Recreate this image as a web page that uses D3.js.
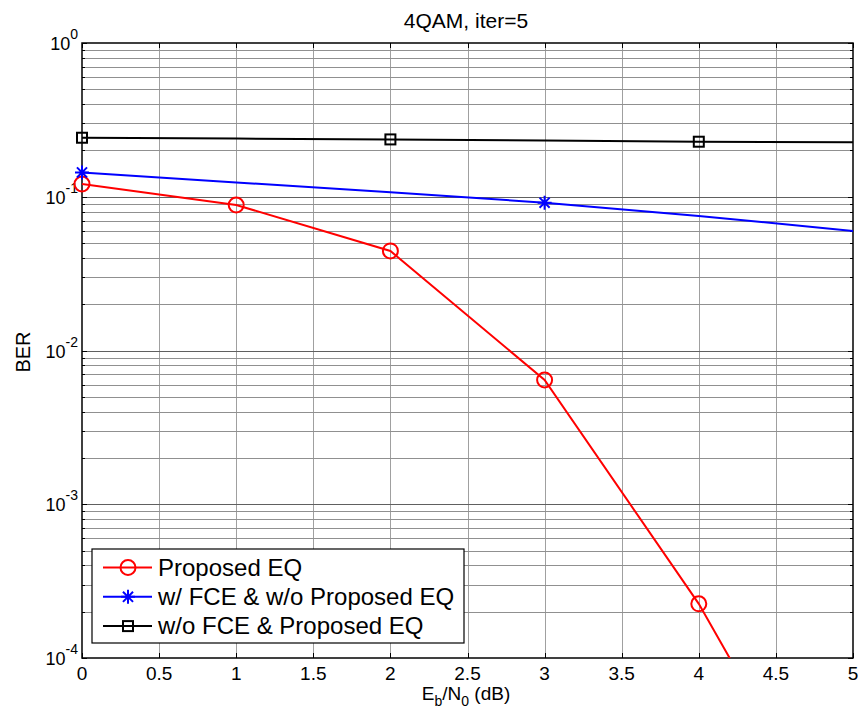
<!DOCTYPE html>
<html>
<head>
<meta charset="utf-8">
<script src="https://cdn.jsdelivr.net/npm/d3@7"></script>
<style>
  body { margin: 0; background: #fff; }
  svg text { font-family: "Liberation Sans", Arial, sans-serif; }
</style>
</head>
<body>
<div id="chart"></div>
<script>
// Data
const EBN0 = [0, 1, 2, 3, 4, 5];
const BER_PROPOSED = [0.121, 0.0884, 0.0444, 0.00643, 0.000225, 0.0000039];
const BER_FCE_NO_EQ = [0.144, 0.124, 0.107, 0.0915, 0.075, 0.0599];
const BER_NO_FCE = [0.242, 0.239, 0.236, 0.232, 0.228, 0.226];
const MARKERS_PROPOSED = [0, 1, 2, 3, 4, 5];
const MARKERS_FCE_NO_EQ = [0, 3];
const MARKERS_NO_FCE = [0, 2, 4];
const X_TICKS = [0, 0.5, 1, 1.5, 2, 2.5, 3, 3.5, 4, 4.5, 5];
const Y_DECADES = [-4, -3, -2, -1, 0];

const width = 860, height = 715;
const margin = { left: 82, top: 43, right: 7, bottom: 57 };

const svg = d3.select("#chart").append("svg")
  .attr("width", width).attr("height", height);

const x = d3.scaleLinear().domain([0, 5]).range([margin.left, width - margin.right]);
const y = d3.scaleLog().domain([1e-4, 1]).range([height - margin.bottom, margin.top]);

const [x0, x1] = x.range();
const [y0, y1] = [y(1), y(1e-4)];

// minor + major y values
const yAll = [];
Y_DECADES.slice(0, -1).forEach(e => {
  for (let k = 1; k <= 9; k++) yAll.push(k * Math.pow(10, e));
});
yAll.push(1);

// grid
const grid = svg.append("g").attr("stroke", "#a0a0a0").attr("stroke-width", 1);
grid.selectAll(".gx").data(X_TICKS.slice(1, -1)).join("line")
  .attr("x1", d => Math.round(x(d)) + 0.5).attr("x2", d => Math.round(x(d)) + 0.5)
  .attr("y1", y0).attr("y2", y1);
grid.selectAll(".gy").data(yAll.filter(v => v > 1e-4 && v < 1)).join("line")
  .attr("x1", x0).attr("x2", x1)
  .attr("y1", d => Math.round(y(d)) + 0.5).attr("y2", d => Math.round(y(d)) + 0.5)
  .attr("stroke", d => Number.isInteger(Math.log10(d)) ? "#606060" : "#909090");

// ticks (inward, both sides)
const ticks = svg.append("g").attr("stroke", "#000").attr("stroke-width", 1);
X_TICKS.forEach(t => {
  const px = Math.round(x(t)) + 0.5;
  ticks.append("line").attr("x1", px).attr("x2", px).attr("y1", y1).attr("y2", y1 - 5);
  ticks.append("line").attr("x1", px).attr("x2", px).attr("y1", y0).attr("y2", y0 + 5);
});
yAll.forEach(v => {
  const py = Math.round(y(v)) + 0.5;
  const len = Number.isInteger(Math.log10(v)) ? 5 : 3;
  ticks.append("line").attr("x1", x0).attr("x2", x0 + len).attr("y1", py).attr("y2", py);
  ticks.append("line").attr("x1", x1).attr("x2", x1 - len).attr("y1", py).attr("y2", py);
});

// tick labels
svg.append("g").selectAll("text").data(X_TICKS).join("text")
  .attr("x", d => x(d)).attr("y", y1 + 22)
  .attr("text-anchor", "middle").attr("font-size", 19)
  .text(d => d);

const yl = svg.append("g").selectAll("text").data(Y_DECADES).join("text")
  .attr("x", x0 - 4).attr("y", d => y(Math.pow(10, d)) + 7)
  .attr("text-anchor", "end").attr("font-size", 18);
yl.append("tspan").text("10");
yl.append("tspan").attr("dy", -11).attr("font-size", 14).text(d => d);

// axis box
svg.append("rect").attr("x", x0).attr("y", y0).attr("width", x1 - x0).attr("height", y1 - y0)
  .attr("fill", "none").attr("stroke", "#000").attr("stroke-width", 1.5);

// title & labels
svg.append("text").attr("x", 466).attr("y", 28)
  .attr("text-anchor", "middle").attr("font-size", 21).text("4QAM, iter=5");

const xlab = svg.append("text").attr("x", 466).attr("y", 700)
  .attr("text-anchor", "middle").attr("font-size", 19);
xlab.append("tspan").text("E");
xlab.append("tspan").attr("dy", 6).attr("font-size", 14).text("b");
xlab.append("tspan").attr("dy", -6).text("/N");
xlab.append("tspan").attr("dy", 6).attr("font-size", 14).text("0");
xlab.append("tspan").attr("dy", -6).text(" (dB)");

svg.append("text").attr("transform", `translate(30,352) rotate(-90)`)
  .attr("text-anchor", "middle").attr("font-size", 20).text("BER");

// series
svg.append("clipPath").attr("id", "clip").append("rect")
  .attr("x", x0).attr("y", y0).attr("width", x1 - x0).attr("height", y1 - y0);

const series = [
  { name: "Proposed EQ", color: "#ff0000", values: BER_PROPOSED, markers: MARKERS_PROPOSED, shape: "circle" },
  { name: "w/ FCE & w/o Proposed EQ", color: "#0000ff", values: BER_FCE_NO_EQ, markers: MARKERS_FCE_NO_EQ, shape: "star" },
  { name: "w/o FCE & Proposed EQ", color: "#000000", values: BER_NO_FCE, markers: MARKERS_NO_FCE, shape: "square" }
];

const line = d3.line().x(d => x(d[0])).y(d => y(d[1]));

function drawMarker(g, shape, color, cx, cy) {
  if (shape === "circle") {
    g.append("circle").attr("cx", cx).attr("cy", cy).attr("r", 7.5)
      .attr("fill", "none").attr("stroke", color).attr("stroke-width", 2);
  } else if (shape === "square") {
    g.append("rect").attr("x", cx - 5).attr("y", cy - 5).attr("width", 10).attr("height", 10)
      .attr("fill", "none").attr("stroke", color).attr("stroke-width", 2);
  } else {
    const r = 7;
    const d = r * 0.72;
    const p = `M${cx - r},${cy}H${cx + r}M${cx},${cy - r}V${cy + r}` +
      `M${cx - d},${cy - d}L${cx + d},${cy + d}` +
      `M${cx - d},${cy + d}L${cx + d},${cy - d}`;
    g.append("path").attr("d", p).attr("stroke", color).attr("stroke-width", 2).attr("fill", "none");
  }
}

const plot = svg.append("g").attr("clip-path", "url(#clip)");
series.slice().reverse().forEach(s => {
  const pts = EBN0.map((e, i) => [e, s.values[i]]);
  plot.append("path").attr("d", line(pts))
    .attr("fill", "none").attr("stroke", s.color).attr("stroke-width", 2);
});
const markerG = svg.append("g");
series.forEach(s => {
  s.markers.forEach(i => {
    const v = s.values[i];
    if (v < 1e-4) return;
    drawMarker(markerG, s.shape, s.color, x(EBN0[i]), y(v));
  });
});

// legend
const lg = svg.append("g").attr("transform", "translate(92,549)");
lg.append("rect").attr("width", 372).attr("height", 94)
  .attr("fill", "#fff").attr("stroke", "#000").attr("stroke-width", 1.2);
series.forEach((s, i) => {
  const ly = 18.5 + i * 29.3;
  lg.append("line").attr("x1", 11).attr("x2", 60).attr("y1", ly).attr("y2", ly)
    .attr("stroke", s.color).attr("stroke-width", 2);
  drawMarker(lg, s.shape, s.color, 36, ly);
  lg.append("text").attr("x", 66).attr("y", ly + 8).attr("font-size", 24).text(s.name);
});
</script>
</body>
</html>
